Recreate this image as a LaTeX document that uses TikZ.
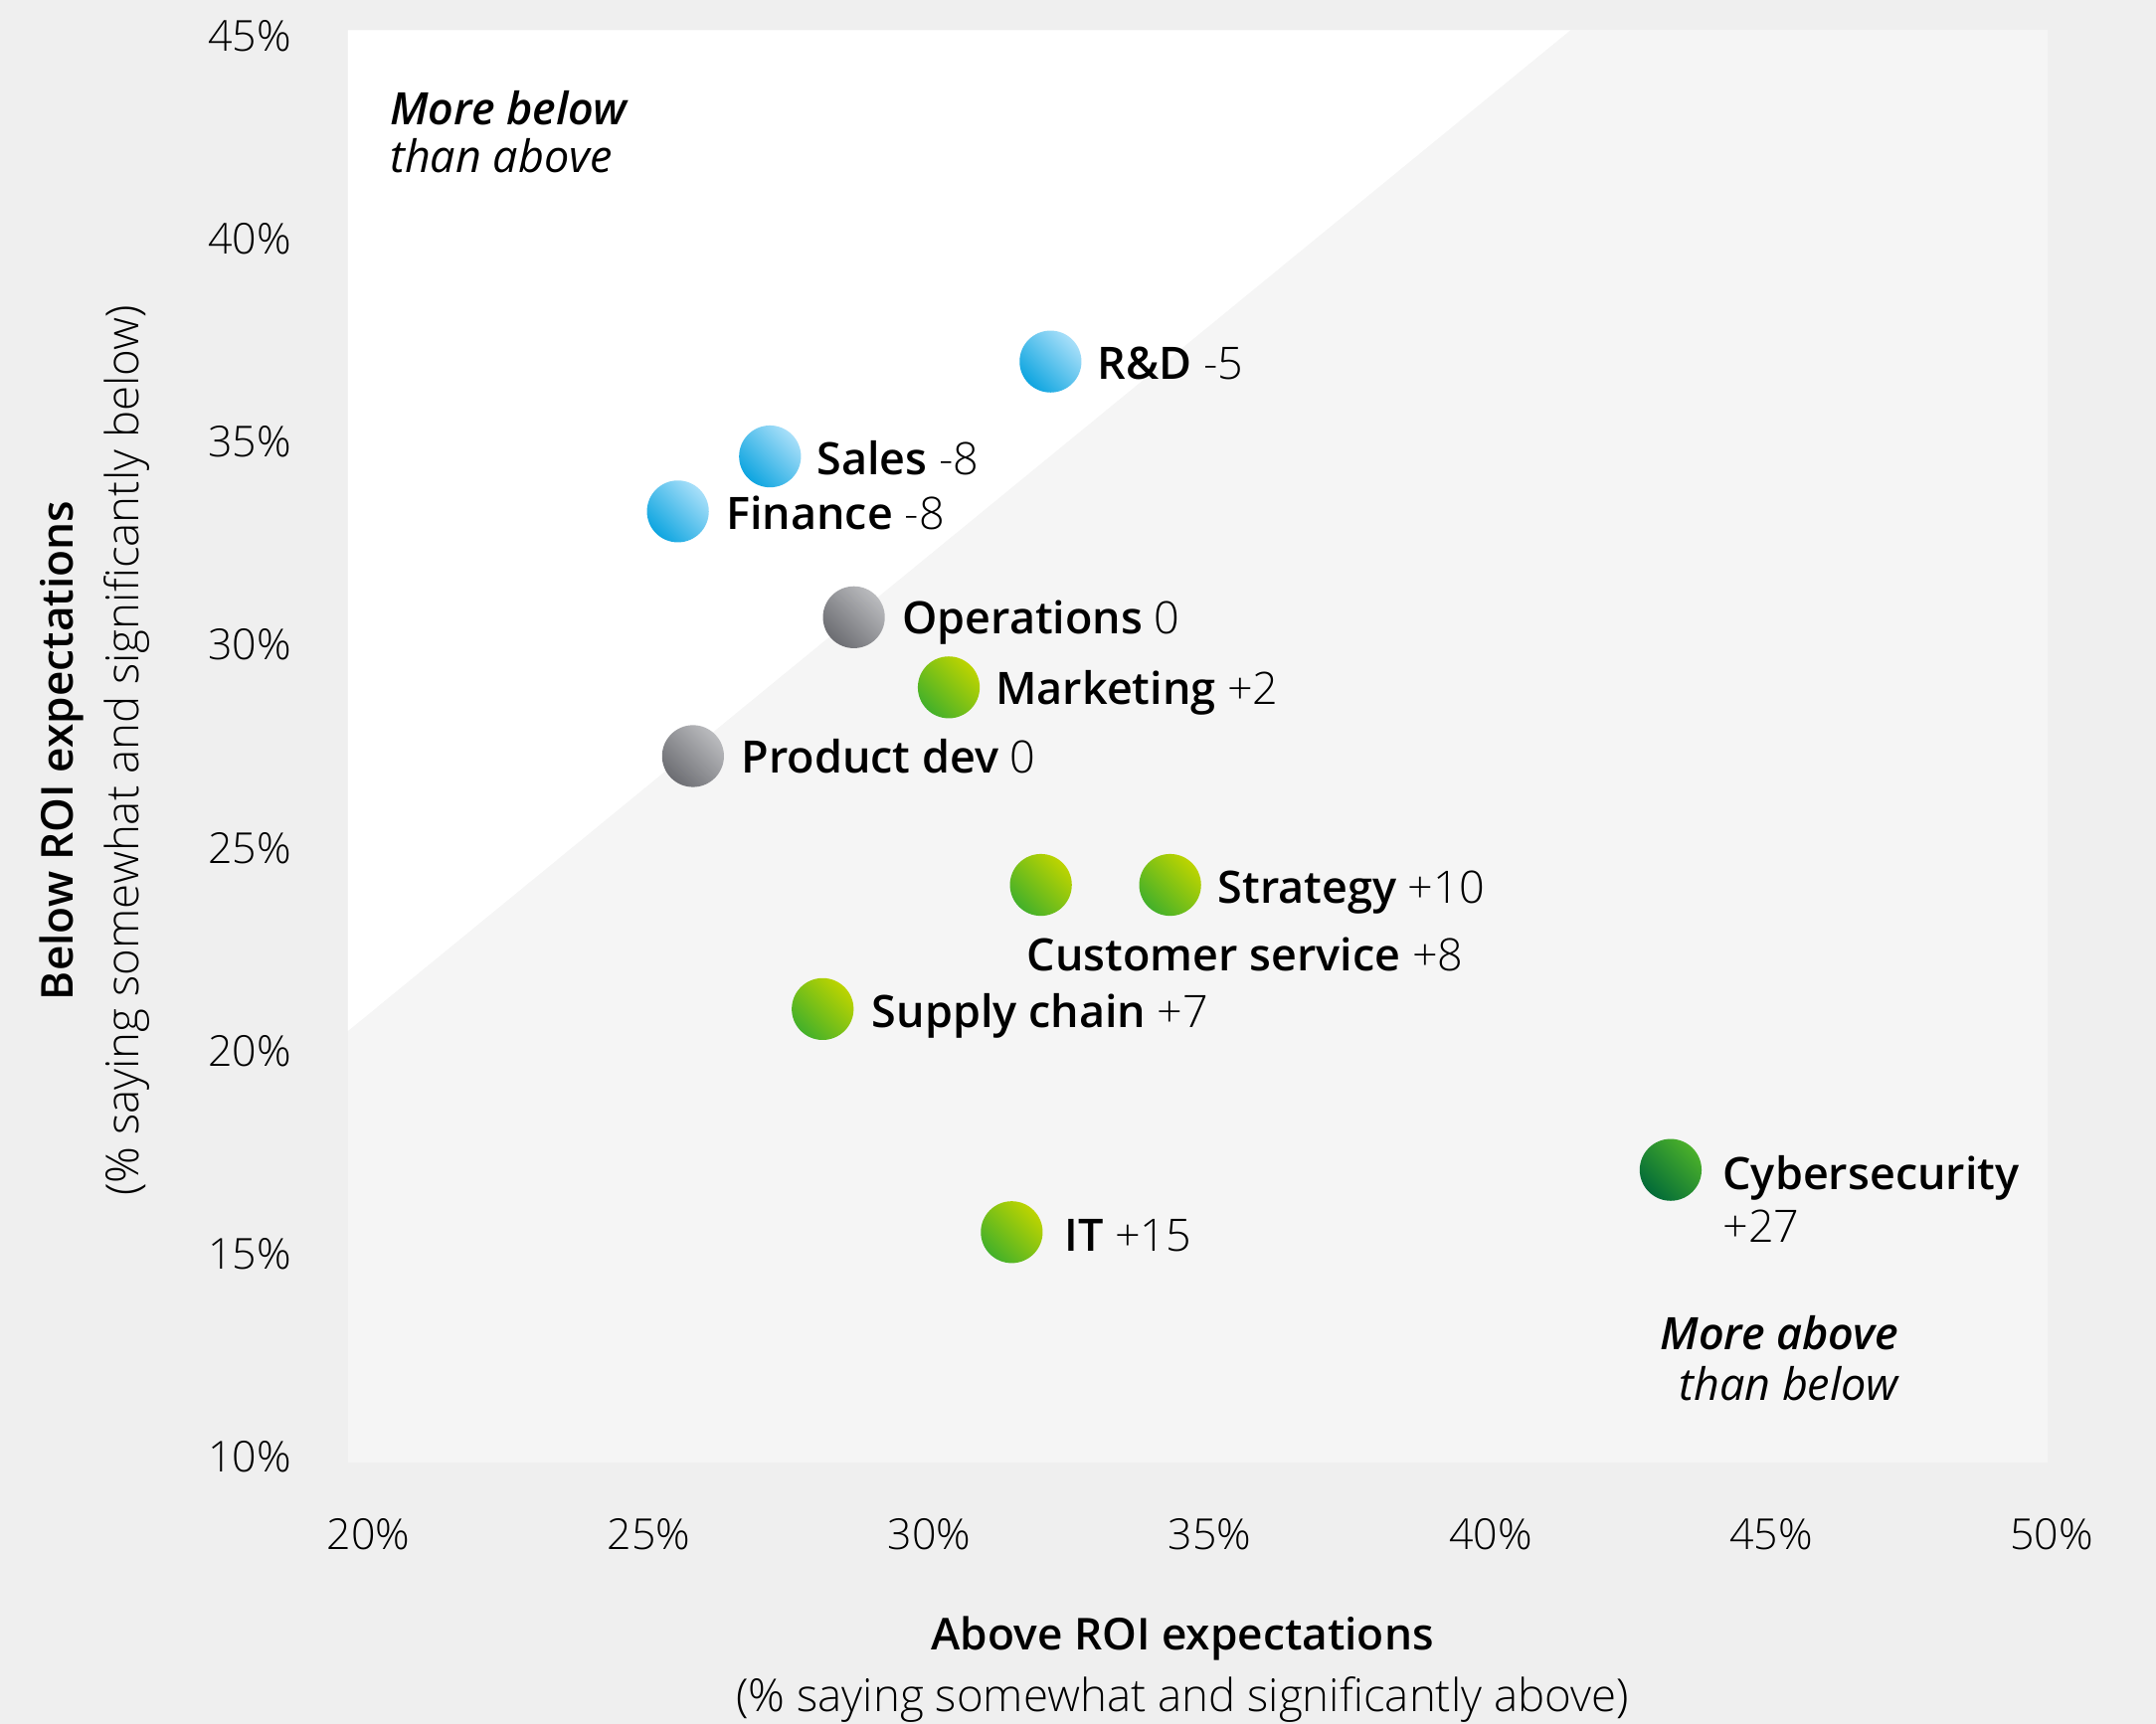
\documentclass[tikz,border=0pt]{standalone}
\usepackage{fontspec}
\IfFontExistsTF{Open Sans SemiBold}
  {\setmainfont{Open Sans}[BoldFont={Open Sans SemiBold}]}
  {\IfFontExistsTF{OpenSans-SemiBold}
     {\setmainfont{Open Sans}[BoldFont={OpenSans-SemiBold}]}
     {\IfFontExistsTF{Open Sans Semibold}
        {\setmainfont{Open Sans}[BoldFont={Open Sans Semibold}]}
        {\setmainfont{Open Sans}}}}
\IfFontExistsTF{Open Sans Light}
  {\newfontfamily\lightf{Open Sans Light}}
  {\IfFontExistsTF{OpenSans-Light}
     {\newfontfamily\lightf{OpenSans-Light}}
     {\newfontfamily\lightf{Open Sans}}}
\definecolor{bgout}{HTML}{EFEFEF}
\definecolor{bgplot}{HTML}{F5F5F5}
\definecolor{blueD}{HTML}{0EA5E0}
\definecolor{blueL}{HTML}{A8DFF9}
\definecolor{grayD}{HTML}{6C6D72}
\definecolor{grayL}{HTML}{BABBBE}
\definecolor{limeD}{HTML}{43B02A}
\definecolor{limeL}{HTML}{BDD400}
\definecolor{cyberD}{HTML}{026B38}
\definecolor{cyberL}{HTML}{4BB02A}
\tikzset{
  dot/.style={circle, minimum size=45pt, inner sep=0pt},
  bluedot/.style={dot, left color=blueD, right color=blueL, shading angle=135},
  graydot/.style={dot, left color=grayD, right color=grayL, shading angle=135},
  limedot/.style={dot, left color=limeD, right color=limeL, shading angle=135},
  cyberdot/.style={dot, left color=cyberD, right color=cyberL, shading angle=135},
  lab/.style={anchor=base west, inner sep=0pt, font=\fontsize{32.5}{36}\selectfont},
  tickl/.style={inner sep=0pt, font=\fontsize{31}{36}\selectfont\lightf},
}
\newcommand{\nm}[1]{{\bfseries #1}}
\newcommand{\vl}[1]{{\lightf #1}}
\begin{document}
\begin{tikzpicture}[x=1pt,y=-1pt]
\useasboundingbox (0,0) rectangle (1568,1254);
\fill[bgout] (0,0) rectangle (1568,1254);
\fill[bgplot] (253,22) rectangle (1489,1064);
\fill[white] (253,22) -- (1142,22) -- (253,750) -- cycle;
% y ticks
\foreach \v [count=\i from 0] in {45,40,35,30,25,20,15,10}
  \node[tickl, anchor=base east] (yt\v) at (212,37.4+147.6*\i) {\v\%};
% x ticks
\foreach \v [count=\i from 0] in {20,25,30,35,40,45,50}
  \node[tickl, anchor=base] (xt\v) at (268+204*\i,1127) {\v\%};
% axis titles
\node[inner sep=0pt, anchor=base, font=\fontsize{32}{36}\selectfont\bfseries] (xtitle) at (860,1200) {Above ROI expectations};
\node[inner sep=0pt, anchor=base, font=\fontsize{33}{36}\selectfont\lightf] (xsub) at (860,1245) {(\% saying somewhat and significantly above)};
\node[inner sep=0pt, rotate=90, font=\fontsize{32}{36}\selectfont\bfseries] (ytitle) at (45,546) {Below ROI expectations};
\node[inner sep=0pt, rotate=90, font=\fontsize{33}{36}\selectfont\lightf] (ysub) at (92,546) {(\% saying somewhat and significantly below)};
% region notes
\node[inner sep=0pt, anchor=base west, align=left, font=\fontsize{32.5}{35}\selectfont\itshape] (nbelow) at (283.5,125.4) {\textbf{More below}\\than above};
\node[inner sep=0pt, anchor=base east, align=right, font=\fontsize{32.5}{36.5}\selectfont\itshape] (nabove) at (1381,1018.5) {\textbf{More above}\\than below};
% dots
\node[bluedot] (rd) at (764,263) {};
\node[bluedot] (sales) at (560,332) {};
\node[bluedot] (fin) at (493,372) {};
\node[graydot] (ops) at (621,449) {};
\node[limedot] (mkt) at (690,500) {};
\node[graydot] (pd) at (504,550) {};
\node[limedot] (cs) at (757,643.7) {};
\node[limedot] (strat) at (851,643.7) {};
\node[limedot] (sc) at (598.3,734) {};
\node[limedot] (it) at (735.8,896.3) {};
\node[cyberdot] (cyber) at (1215,851) {};
% labels
\node[lab] (rdl) at (798,276) {\nm{R\&D} \vl{-5}};
\node[lab] (salesl) at (594,345) {\nm{Sales} \vl{-8}};
\node[lab] (finl) at (528,385) {\nm{Finance} \vl{-8}};
\node[lab] (opsl) at (656,461) {\nm{Operations} \vl{0}};
\node[lab] (mktl) at (724,512.5) {\nm{Marketing} \vl{+2}};
\node[lab] (pdl) at (539,562.5) {\nm{Product dev} \vl{0}};
\node[lab] (stratl) at (885.6,656.8) {\nm{Strategy} \vl{+10}};
\node[lab] (csl) at (746.7,706.4) {\nm{Customer service} \vl{+8}};
\node[lab] (scl) at (634,747.3) {\nm{Supply chain} \vl{+7}};
\node[lab] (itl) at (774,910) {\nm{IT} \vl{+15}};
\node[lab] (cyberl) at (1252.8,865) {\nm{Cybersecurity}};
\node[lab] (cybern) at (1252.8,903.7) {\vl{+27}};
\end{tikzpicture}
\end{document}
